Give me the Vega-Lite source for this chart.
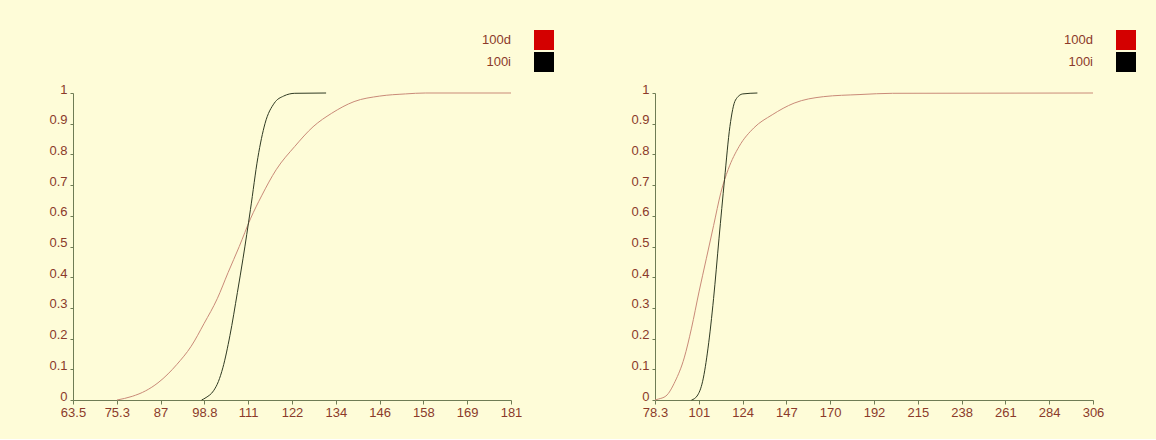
{
  "$schema": "https://vega.github.io/schema/vega-lite/v6.json",
  "autosize": {"type": "pad"},
  "padding": {"left": 48, "top": 30, "right": 21, "bottom": 20},
  "background": "#fefcd8",
  "spacing": 144,
  "bounds": "flush",
  "config": {
    "view": {"stroke": null},
    "font": "Liberation Sans",
    "axis": {
      "grid": false,
      "title": null,
      "domainColor": "#6f7c55",
      "tickColor": "#6f7c55",
      "labelColor": "#8b3a2a",
      "labelFont": "Liberation Sans",
      "labelFontSize": 13
    },
    "legend": {
      "orient": "none",
      "legendX": 461,
      "legendY": -63,
      "title": null,
      "symbolType": "square",
      "symbolSize": 400,
      "labelAlign": "right",
      "labelOffset": -43,
      "rowPadding": 2,
      "labelFontSize": 13,
      "labelFont": "Liberation Sans",
      "labelColor": "#8b3a2a"
    }
  },
  "datasets": {
    "curves": [
      {"panel": "A", "series": "100d", "x": 75.3, "y": 0},
      {"panel": "A", "series": "100d", "x": 79.4, "y": 0.012},
      {"panel": "A", "series": "100d", "x": 83, "y": 0.03},
      {"panel": "A", "series": "100d", "x": 86.3, "y": 0.056},
      {"panel": "A", "series": "100d", "x": 89, "y": 0.085},
      {"panel": "A", "series": "100d", "x": 91.3, "y": 0.115},
      {"panel": "A", "series": "100d", "x": 95.2, "y": 0.175},
      {"panel": "A", "series": "100d", "x": 98.7, "y": 0.25},
      {"panel": "A", "series": "100d", "x": 102.2, "y": 0.33},
      {"panel": "A", "series": "100d", "x": 105.1, "y": 0.415},
      {"panel": "A", "series": "100d", "x": 108.1, "y": 0.5},
      {"panel": "A", "series": "100d", "x": 111.1, "y": 0.59},
      {"panel": "A", "series": "100d", "x": 114.1, "y": 0.665},
      {"panel": "A", "series": "100d", "x": 118, "y": 0.75},
      {"panel": "A", "series": "100d", "x": 123, "y": 0.826},
      {"panel": "A", "series": "100d", "x": 127.9, "y": 0.89},
      {"panel": "A", "series": "100d", "x": 132.9, "y": 0.934},
      {"panel": "A", "series": "100d", "x": 138.9, "y": 0.972},
      {"panel": "A", "series": "100d", "x": 145.8, "y": 0.99},
      {"panel": "A", "series": "100d", "x": 152.7, "y": 0.997},
      {"panel": "A", "series": "100d", "x": 158, "y": 1},
      {"panel": "A", "series": "100d", "x": 181, "y": 1},
      {"panel": "A", "series": "100i", "x": 98, "y": 0},
      {"panel": "A", "series": "100i", "x": 99.2, "y": 0.008},
      {"panel": "A", "series": "100i", "x": 101.2, "y": 0.03},
      {"panel": "A", "series": "100i", "x": 102.5, "y": 0.06},
      {"panel": "A", "series": "100i", "x": 103.7, "y": 0.105},
      {"panel": "A", "series": "100i", "x": 105.6, "y": 0.21},
      {"panel": "A", "series": "100i", "x": 107.6, "y": 0.35},
      {"panel": "A", "series": "100i", "x": 109.1, "y": 0.46},
      {"panel": "A", "series": "100i", "x": 111.1, "y": 0.62},
      {"panel": "A", "series": "100i", "x": 113.1, "y": 0.79},
      {"panel": "A", "series": "100i", "x": 115, "y": 0.9},
      {"panel": "A", "series": "100i", "x": 117.5, "y": 0.967},
      {"panel": "A", "series": "100i", "x": 120, "y": 0.99},
      {"panel": "A", "series": "100i", "x": 123, "y": 0.999},
      {"panel": "A", "series": "100i", "x": 131.4, "y": 1},
      {"panel": "B", "series": "100d", "x": 78.3, "y": 0},
      {"panel": "B", "series": "100d", "x": 80, "y": 0.003},
      {"panel": "B", "series": "100d", "x": 84, "y": 0.013},
      {"panel": "B", "series": "100d", "x": 88.8, "y": 0.061},
      {"panel": "B", "series": "100d", "x": 93.5, "y": 0.137},
      {"panel": "B", "series": "100d", "x": 97.3, "y": 0.234},
      {"panel": "B", "series": "100d", "x": 101.2, "y": 0.352},
      {"panel": "B", "series": "100d", "x": 105, "y": 0.46},
      {"panel": "B", "series": "100d", "x": 108.8, "y": 0.568},
      {"panel": "B", "series": "100d", "x": 112.6, "y": 0.676},
      {"panel": "B", "series": "100d", "x": 116.4, "y": 0.751},
      {"panel": "B", "series": "100d", "x": 122.1, "y": 0.826},
      {"panel": "B", "series": "100d", "x": 129.7, "y": 0.886},
      {"panel": "B", "series": "100d", "x": 139.3, "y": 0.929},
      {"panel": "B", "series": "100d", "x": 150.7, "y": 0.967},
      {"panel": "B", "series": "100d", "x": 165.9, "y": 0.988},
      {"panel": "B", "series": "100d", "x": 185, "y": 0.995},
      {"panel": "B", "series": "100d", "x": 202, "y": 0.999},
      {"panel": "B", "series": "100d", "x": 306.3, "y": 1},
      {"panel": "B", "series": "100i", "x": 97.3, "y": 0},
      {"panel": "B", "series": "100i", "x": 100.2, "y": 0.013},
      {"panel": "B", "series": "100i", "x": 103.1, "y": 0.061},
      {"panel": "B", "series": "100i", "x": 105.9, "y": 0.169},
      {"panel": "B", "series": "100i", "x": 108.8, "y": 0.331},
      {"panel": "B", "series": "100i", "x": 111.6, "y": 0.525},
      {"panel": "B", "series": "100i", "x": 114.5, "y": 0.719},
      {"panel": "B", "series": "100i", "x": 117.3, "y": 0.891},
      {"panel": "B", "series": "100i", "x": 120.2, "y": 0.977},
      {"panel": "B", "series": "100i", "x": 124, "y": 0.997},
      {"panel": "B", "series": "100i", "x": 131.6, "y": 1}
    ]
  },
  "resolve": {"scale": {"color": "independent"}, "legend": {"color": "independent"}},
  "hconcat": [
    {
      "width": 438,
      "height": 307,
      "data": {"name": "curves"},
      "transform": [{"filter": "datum.panel === 'A'"}],
      "mark": {"type": "line", "strokeWidth": 1, "interpolate": "monotone"},
      "encoding": {
        "x": {
          "field": "x", "type": "quantitative",
          "scale": {"domain": [63.5, 181], "nice": false, "zero": false},
          "axis": {"values": [63.5, 75.25, 87, 98.75, 110.5, 122.25, 134, 145.75, 157.5, 169.25, 181], "format": ".3~r", "tickSize": 4, "labelPadding": 2, "labelFlush": false}
        },
        "y": {
          "field": "y", "type": "quantitative",
          "scale": {"domain": [0, 1], "nice": false},
          "axis": {"values": [0, 0.1, 0.2, 0.3, 0.4, 0.5, 0.6, 0.7, 0.8, 0.9, 1], "format": ".1~f", "tickSize": 3, "labelPadding": 3, "labelBaseline": "alphabetic", "labelFlush": false}
        },
        "color": {
          "field": "series", "type": "nominal",
          "scale": {"domain": ["100d", "100i"], "range": ["#c98a78", "#2f3a22"]},
          "legend": {
            "encode": {"symbols": {"update": {
              "fill": [{"test": "datum.value === '100d'", "value": "#d40000"}, {"value": "#000000"}],
              "fillOpacity": {"value": 1}, "opacity": {"value": 1}, "strokeWidth": {"value": 0}
            }}}
          }
        }
      }
    },
    {
      "width": 438,
      "height": 307,
      "data": {"name": "curves"},
      "transform": [{"filter": "datum.panel === 'B'"}],
      "mark": {"type": "line", "strokeWidth": 1, "interpolate": "monotone"},
      "encoding": {
        "x": {
          "field": "x", "type": "quantitative",
          "scale": {"domain": [78.3, 306.3], "nice": false, "zero": false},
          "axis": {"values": [78.3, 101.1, 123.9, 146.7, 169.5, 192.3, 215.1, 237.9, 260.7, 283.5, 306.3], "format": ".3~r", "tickSize": 4, "labelPadding": 2, "labelFlush": false}
        },
        "y": {
          "field": "y", "type": "quantitative",
          "scale": {"domain": [0, 1], "nice": false},
          "axis": {"values": [0, 0.1, 0.2, 0.3, 0.4, 0.5, 0.6, 0.7, 0.8, 0.9, 1], "format": ".1~f", "tickSize": 3, "labelPadding": 3, "labelBaseline": "alphabetic", "labelFlush": false}
        },
        "color": {
          "field": "series", "type": "nominal",
          "scale": {"domain": ["100d", "100i"], "range": ["#c98a78", "#2f3a22"]},
          "legend": {
            "encode": {"symbols": {"update": {
              "fill": [{"test": "datum.value === '100d'", "value": "#d40000"}, {"value": "#000000"}],
              "fillOpacity": {"value": 1}, "opacity": {"value": 1}, "strokeWidth": {"value": 0}
            }}}
          }
        }
      }
    }
  ]
}
